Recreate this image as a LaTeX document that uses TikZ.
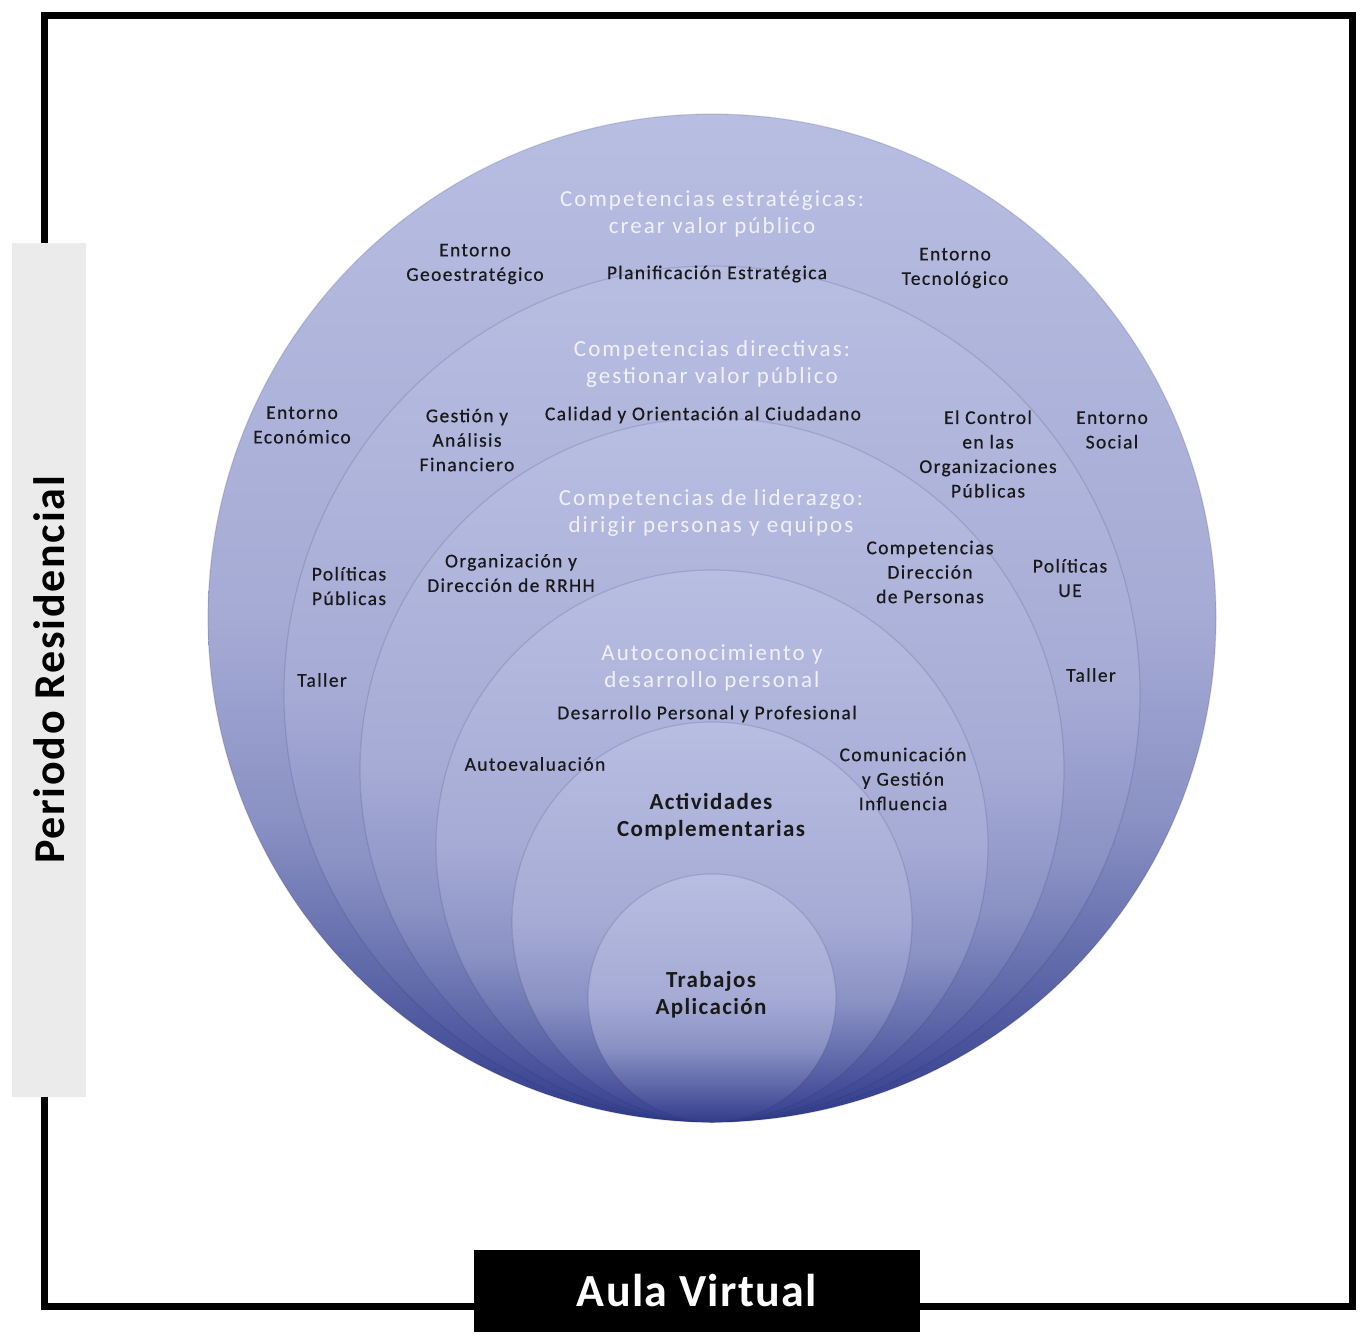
\documentclass[tikz,border=0pt]{standalone}
\usepackage{fontspec}
\setmainfont{Carlito}
\newfontfamily\lblfont[LetterSpace=7,FakeBold=0.5]{Carlito}
\newfontfamily\hdrfont[LetterSpace=9]{Carlito}
\newfontfamily\bigfont[LetterSpace=6]{Carlito}
\definecolor{shA}{RGB}{184,189,226}
\definecolor{shB}{RGB}{166,171,213}
\definecolor{shC}{RGB}{138,145,196}
\definecolor{shD}{RGB}{92,101,167}
\definecolor{shE}{RGB}{50,61,140}
\definecolor{grayband}{RGB}{235,235,235}
\pgfdeclareverticalshading{ringshade}{100bp}{color(0bp)=(shE); color(25bp)=(shE); color(32bp)=(shD); color(40bp)=(shC); color(50bp)=(shB); color(75bp)=(shA); color(100bp)=(shA)}
\tikzset{
  ring/.style={shading=ringshade, draw=shE!70!black, draw opacity=0.15, line width=1.2pt},
  lbl/.style={font=\lblfont\fontsize{19.5}{24.5}\selectfont, text=black!90, align=center, inner sep=0pt},
  hdr/.style={font=\hdrfont\fontsize{23}{27}\selectfont, text=white, text opacity=0.82, align=center, inner sep=0pt},
  big/.style={font=\bigfont\bfseries\fontsize{23}{27}\selectfont, text=black!90, align=center, inner sep=0pt},
  prbox/.style={fill=grayband, minimum width=854pt, minimum height=74pt, inner sep=0pt, font=\bfseries\fontsize{44}{50}\selectfont\addfontfeatures{LetterSpace=4}},
  avbox/.style={fill=black, text=white, minimum width=446pt, minimum height=82pt, inner sep=0pt, font=\bfseries\fontsize{46}{52}\selectfont\addfontfeatures{LetterSpace=3}}
}
\begin{document}
\begin{tikzpicture}[x=1pt, y=-1pt]
\useasboundingbox (0,0) rectangle (1363,1341);
% frame
\draw[line width=7pt] (44,15) rectangle (1352,1306);
\node[prbox, rotate=90] (pr) at (49,670) {Periodo Residencial};
\node[avbox] (av) at (697,1291) {Aula Virtual};
% nested circles
\path[ring] (712,618) circle[radius=504pt];
\path[ring] (712,694) circle[radius=428pt];
\path[ring] (712,770) circle[radius=352pt];
\path[ring] (712,846) circle[radius=276pt];
\path[ring] (712,922) circle[radius=200pt];
\path[ring] (712,998) circle[radius=124pt];
% labels
\node[hdr] (h1) at (712,214) {Competencias estratégicas:\\crear valor público};
\node[lbl] (geo) at (475,264) {Entorno\\Geoestratégico};
\node[lbl] (plan) at (717,274) {Planificación Estratégica};
\node[lbl] (tec) at (955,268) {Entorno\\Tecnológico};
\node[hdr] (h2) at (712,364) {Competencias directivas:\\gestionar valor público};
\node[lbl] (eco) at (302,425) {Entorno\\Económico};
\node[lbl] (gest) at (467,440) {Gestión y\\Análisis\\Financiero};
\node[lbl] (cal) at (703,415) {Calidad y Orientación al Ciudadano};
\node[lbl] (ctrl) at (988,454) {El Control\\en las\\Organizaciones\\Públicas};
\node[lbl] (soc) at (1112,430) {Entorno\\Social};
\node[hdr] (h3) at (711,513) {Competencias de liderazgo:\\dirigir personas y equipos};
\node[lbl] (pp) at (349,586) {Políticas\\Públicas};
\node[lbl] (org) at (511,573) {Organización y\\Dirección de RRHH};
\node[lbl] (cdp) at (930,572) {Competencias\\Dirección\\de Personas};
\node[lbl] (ue) at (1070,578) {Políticas\\UE};
\node[lbl] (t1) at (322,680) {Taller};
\node[lbl] (t2) at (1091,675) {Taller};
\node[hdr] (h4) at (712,668) {Autoconocimiento y\\desarrollo personal};
\node[lbl] (dpp) at (707,714) {Desarrollo Personal y Profesional};
\node[lbl] (auto) at (535,764) {Autoevaluación};
\node[lbl] (com) at (903,779) {Comunicación\\y Gestión\\Influencia};
\node[big] (act) at (711,817) {Actividades\\Complementarias};
\node[big] (trab) at (711,995) {Trabajos\\Aplicación};
\end{tikzpicture}
\end{document}
